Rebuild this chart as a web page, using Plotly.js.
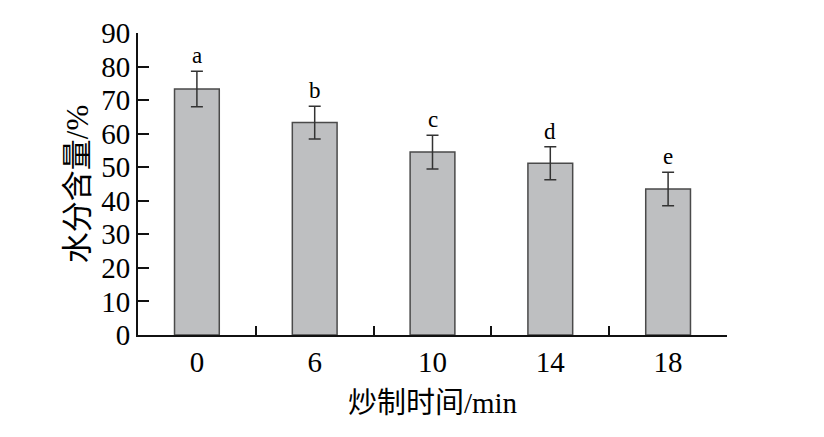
<!DOCTYPE html>
<html>
<head>
<meta charset="utf-8">
<script src="https://cdn.plot.ly/plotly-3.0.1.min.js"></script>
<style>html,body{margin:0;padding:0;background:#fff;}#chart{width:824px;height:437px;}</style>
</head>
<body>
<div id="chart"></div>
<script>
const categories = ["0", "6", "10", "14", "18"];
const moisture = [73.3, 63.3, 54.5, 51.2, 43.5];
const errors = [5.3, 4.9, 5.0, 4.9, 5.0];
const letters = ["a", "b", "c", "d", "e"];
const yTicks = [0, 10, 20, 30, 40, 50, 60, 70, 80, 90];

const serif = "Liberation Serif, Times New Roman, Noto Sans CJK SC, serif";

const trace = {
  type: "bar",
  x: categories,
  y: moisture,
  width: 0.38,
  marker: {color: "#bebfc1", line: {color: "#4a4a4a", width: 1.5}},
  error_y: {type: "data", array: errors, visible: true, color: "#333", thickness: 1.5, width: 6},
  hoverinfo: "skip"
};

const annotations = categories.map((c, i) => ({
  x: i, y: moisture[i] + errors[i], xref: "x", yref: "y",
  text: letters[i], showarrow: false, yanchor: "bottom", yshift: 1,
  font: {family: serif, size: 23, color: "#000"}
}));

const layout = {
  width: 824, height: 437,
  margin: {l: 138, r: 97, t: 33, b: 102},
  paper_bgcolor: "#fff", plot_bgcolor: "#fff",
  showlegend: false,
  font: {family: serif, color: "#000"},
  xaxis: {
    type: "category",
    range: [-0.5, 4.5],
    categoryorder: "array", categoryarray: categories,
    showline: true, linecolor: "#111", linewidth: 2,
    ticks: "inside", tickson: "boundaries", ticklen: 9, tickwidth: 2, tickcolor: "#111",
    tickfont: {family: serif, size: 29, color: "#000"},
    tickangle: 0,
    showgrid: false, zeroline: false,
    title: {text: "炒制时间/min", font: {family: serif, size: 29, color: "#000"}, standoff: 16}
  },
  yaxis: {
    range: [0, 90],
    tickvals: yTicks,
    showline: true, linecolor: "#111", linewidth: 2,
    ticks: "inside", ticklen: 11, tickwidth: 2, tickcolor: "#111",
    tickfont: {family: serif, size: 29, color: "#000"},
    showgrid: false, zeroline: false,
    title: {text: "水分含量/%", font: {family: serif, size: 31, color: "#000"}, standoff: 3}
  },
  annotations: annotations
};

Plotly.newPlot("chart", [trace], layout, {displayModeBar: false, staticPlot: true});
</script>
</body>
</html>
